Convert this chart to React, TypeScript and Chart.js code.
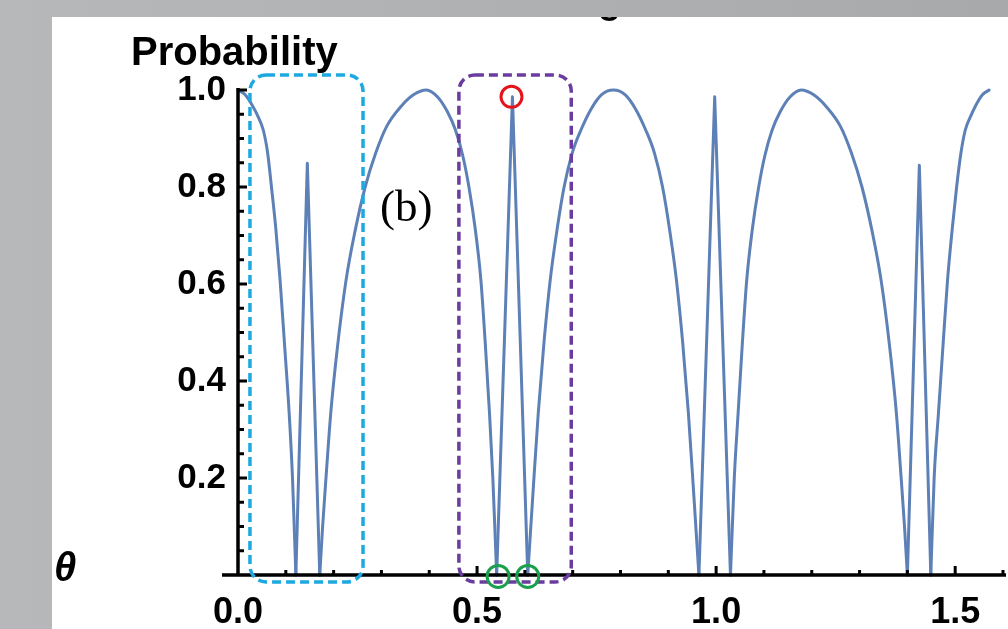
import React, { useEffect, useRef } from "react";
import { Chart, registerables } from "chart.js";

Chart.register(...registerables);

// theta (x) and probability (y)
const thetaValues = [
  0.000, 0.015, 0.030, 0.042, 0.053, 0.062, 0.070, 0.079, 0.088, 0.097, 0.107, 0.114, 0.121,
  0.145,
  0.171, 0.177, 0.184, 0.194, 0.208, 0.226, 0.245, 0.266, 0.288, 0.311, 0.340, 0.367, 0.394,
  0.418, 0.438, 0.455, 0.470, 0.483, 0.496, 0.508, 0.517, 0.526, 0.533, 0.541,
  0.574,
  0.606, 0.617, 0.628, 0.640, 0.653, 0.667, 0.682, 0.699, 0.717, 0.738, 0.760, 0.785,
  0.810, 0.832, 0.853, 0.871, 0.888, 0.903, 0.917, 0.930, 0.942, 0.953, 0.964,
  0.997,
  1.030, 1.038, 1.046, 1.055, 1.064, 1.076, 1.089, 1.102, 1.117, 1.134, 1.154, 1.178,
  1.204, 1.231, 1.260, 1.283, 1.305, 1.326, 1.345, 1.363, 1.377, 1.387, 1.394, 1.400,
  1.425,
  1.449, 1.456, 1.465, 1.475, 1.484, 1.494, 1.503, 1.512, 1.521, 1.532, 1.543, 1.557, 1.571,
];
const probabilityValues = [
  1.000, 0.990, 0.968, 0.945, 0.917, 0.870, 0.800, 0.715, 0.608, 0.480, 0.334, 0.200, 0.000,
  0.849,
  0.000, 0.100, 0.200, 0.334, 0.470, 0.608, 0.710, 0.800, 0.870, 0.925, 0.965, 0.990, 1.000,
  0.985, 0.955, 0.917, 0.865, 0.800, 0.715, 0.608, 0.480, 0.334, 0.200, 0.000,
  0.986,
  0.000, 0.170, 0.334, 0.480, 0.608, 0.710, 0.800, 0.870, 0.917, 0.960, 0.990, 1.000,
  0.990, 0.960, 0.917, 0.870, 0.800, 0.710, 0.608, 0.480, 0.334, 0.170, 0.000,
  0.986,
  0.000, 0.200, 0.334, 0.480, 0.608, 0.715, 0.800, 0.865, 0.917, 0.955, 0.985, 1.000,
  0.990, 0.965, 0.925, 0.870, 0.800, 0.710, 0.608, 0.470, 0.334, 0.200, 0.100, 0.000,
  0.845,
  0.000, 0.200, 0.334, 0.480, 0.608, 0.715, 0.800, 0.870, 0.917, 0.945, 0.968, 0.990, 1.000,
];

const xTickLabels = ["0.0", "0.5", "1.0", "1.5"];
const yTickLabels = ["0.2", "0.4", "0.6", "0.8", "1.0"];

// highlight boxes in data units: [thetaFrom, thetaTo, probFrom, probTo]
const cyanBox = [0.025, 0.2615, -0.0144, 1.031];
const purpleBox = [0.462, 0.697, -0.0144, 1.031];
// marked points (theta, probability)
const redMarker = [0.572, 0.986];
const greenMarkers = [
  [0.544, -0.003],
  [0.606, -0.003],
];

const AXIS_FONT = "'Liberation Sans', Arial, sans-serif";
const LINE_COLOR = "#5d80b6";

// split the curve at its zeros: arcs are smoothed, narrow spikes stay straight
function buildPieces() {
  const pts = thetaValues.map((t, i) => ({ x: t, y: probabilityValues[i] }));
  const pieces: { x: number; y: number }[][] = [];
  let cur: { x: number; y: number }[] = [];
  pts.forEach((p, i) => {
    cur.push(p);
    if (p.y === 0 && i > 0 && i < pts.length - 1) {
      pieces.push(cur);
      cur = [p];
    }
  });
  pieces.push(cur);
  return pieces;
}

const overlayPlugin = {
  id: "overlay",
  afterDatasetsDraw(chart: any) {
    const ctx = chart.ctx;
    const xs = chart.scales.x;
    const ys = chart.scales.y;
    const x0 = xs.getPixelForValue(0);
    const y0 = ys.getPixelForValue(0);
    ctx.save();
    // axes
    ctx.strokeStyle = "#000";
    ctx.lineWidth = 3.5;
    ctx.lineCap = "butt";
    ctx.beginPath();
    ctx.moveTo(x0 - 16, y0);
    ctx.lineTo(1006, y0);
    ctx.moveTo(x0, ys.getPixelForValue(1.0) - 2);
    ctx.lineTo(x0, y0);
    ctx.stroke();
    ctx.lineWidth = 3;
    ctx.beginPath();
    for (let i = 1; i <= 16; i++) {
      const px = xs.getPixelForValue(i / 10);
      const len = i % 5 === 0 ? 9 : 5;
      ctx.moveTo(px, y0);
      ctx.lineTo(px, y0 - len);
    }
    for (let i = 1; i <= 20; i++) {
      const py = ys.getPixelForValue(i / 20);
      const len = i % 4 === 0 ? 9 : 6;
      ctx.moveTo(x0, py);
      ctx.lineTo(x0 + len, py);
    }
    ctx.stroke();

    // dashed highlight boxes
    const drawBox = (b: number[], color: string) => {
      const l = xs.getPixelForValue(b[0]);
      const r = xs.getPixelForValue(b[1]);
      const bt = ys.getPixelForValue(b[2]);
      const t = ys.getPixelForValue(b[3]);
      ctx.strokeStyle = color;
      ctx.lineWidth = 3.5;
      ctx.setLineDash([9, 5]);
      ctx.beginPath();
      ctx.roundRect(l, t, r - l, bt - t, 16);
      ctx.stroke();
      ctx.setLineDash([]);
    };
    drawBox(cyanBox, "#1ea8e0");
    drawBox(purpleBox, "#6a3c9f");

    // circles
    ctx.lineWidth = 3;
    ctx.strokeStyle = "#e3141b";
    ctx.beginPath();
    ctx.arc(xs.getPixelForValue(redMarker[0]), ys.getPixelForValue(redMarker[1]), 10.5, 0, Math.PI * 2);
    ctx.stroke();
    ctx.strokeStyle = "#1aa04c";
    for (const m of greenMarkers) {
      ctx.beginPath();
      ctx.arc(xs.getPixelForValue(m[0]), ys.getPixelForValue(m[1]), 11, 0, Math.PI * 2);
      ctx.stroke();
    }

    // texts
    ctx.fillStyle = "#000";
    ctx.textBaseline = "alphabetic";
    ctx.textAlign = "left";
    ctx.font = `bold 40px ${AXIS_FONT}`;
    ctx.fillText("Probability", 131, 65);
    ctx.font = `italic bold 40px ${AXIS_FONT}`;
    ctx.fillText("θ", 54, 581);
    ctx.font = `45px 'Liberation Serif', 'Times New Roman', serif`;
    ctx.fillText("(b)", 380, 221);

    // cut-off glyph of the title above the panel
    ctx.save();
    ctx.beginPath();
    ctx.rect(52, 17, 956, 20);
    ctx.clip();
    ctx.font = `bold 38px ${AXIS_FONT}`;
    ctx.fillText("g", 598, 13);
    ctx.restore();
    ctx.restore();
  },
};

export default function App() {
  const canvasRef = useRef<HTMLCanvasElement>(null);

  useEffect(() => {
    const canvas = canvasRef.current;
    if (!canvas) return;
    const pieces = buildPieces();
    const datasets = pieces.map((piece) => ({
      data: piece,
      borderColor: LINE_COLOR,
      borderWidth: 3,
      pointRadius: 0,
      tension: piece.length > 3 ? 0.4 : 0,
      cubicInterpolationMode: piece.length > 3 ? ("monotone" as const) : ("default" as const),
      borderJoinStyle: "round" as const,
      borderCapStyle: "round" as const,
      clip: false as any,
      fill: false,
    }));
    const chart = new Chart(canvas, {
      type: "line",
      data: { datasets },
      options: {
        animation: false,
        responsive: false,
        devicePixelRatio: 1,
        layout: { padding: { top: 90, right: 5, left: 0, bottom: 0 } },
        plugins: { legend: { display: false }, tooltip: { enabled: false }, title: { display: false } },
        scales: {
          x: {
            type: "linear",
            min: 0,
            max: 1.6,
            grid: { display: false, drawTicks: false },
            border: { display: false },
            afterFit: (s: any) => {
              s.height = 54;
              s.paddingRight = 0;
              s.paddingLeft = 0;
            },
            ticks: {
              stepSize: 0.1,
              autoSkip: false,
              maxRotation: 0,
              padding: 16,
              color: "#000",
              font: { family: AXIS_FONT, weight: "bold", size: 36 },
              callback: (v: any) => {
                const idx = Math.round(Number(v) * 2);
                return Math.abs(Number(v) * 2 - idx) < 1e-6 && idx < xTickLabels.length ? xTickLabels[idx] : "";
              },
            },
          },
          y: {
            type: "linear",
            min: 0,
            max: 1,
            grid: { display: false, drawTicks: false },
            border: { display: false },
            afterFit: (s: any) => {
              s.width = 238;
            },
            ticks: {
              stepSize: 0.05,
              autoSkip: false,
              padding: 12,
              color: "#000",
              font: { family: AXIS_FONT, weight: "bold", size: 35 },
              callback: (v: any) => {
                const idx = Math.round(Number(v) * 5);
                return Math.abs(Number(v) * 5 - idx) < 1e-6 && idx >= 1 ? yTickLabels[idx - 1] : "";
              },
            },
          },
        },
      },
      plugins: [overlayPlugin],
    });
    return () => chart.destroy();
  }, []);

  return (
    <div
      style={{
        position: "fixed",
        left: 0,
        top: 0,
        width: 1008,
        height: 629,
        background: "linear-gradient(to right, #b7b8ba, #a8a9ab)",
        overflow: "hidden",
      }}
    >
      <div style={{ position: "absolute", left: 52, top: 17, right: 0, bottom: 0, background: "#fff" }} />
      <canvas ref={canvasRef} width={1008} height={629} style={{ position: "absolute", left: 0, top: 0 }} />
    </div>
  );
}
